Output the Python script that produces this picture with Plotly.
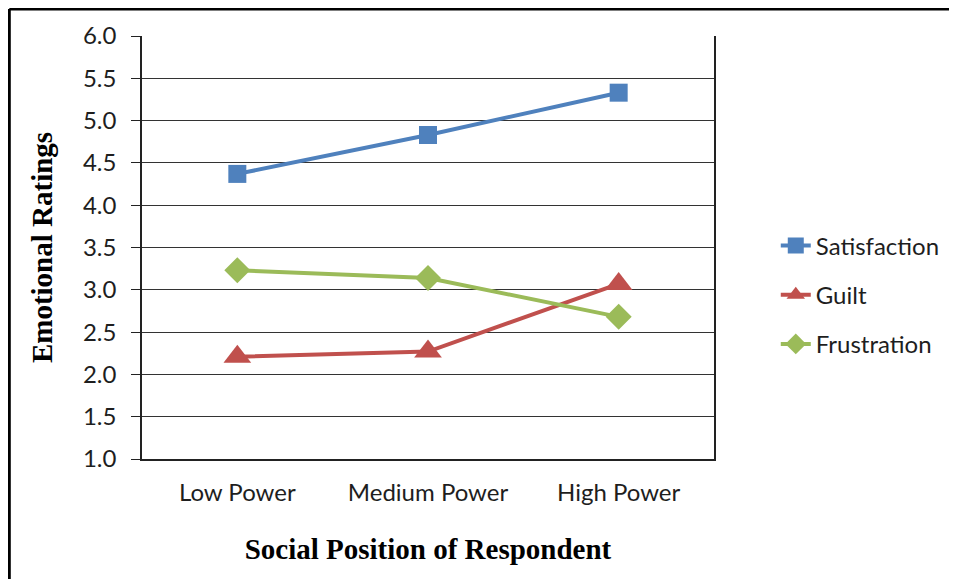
import plotly.graph_objects as go

categories = ["Low Power", "Medium Power", "High Power"]
satisfaction = [4.37, 4.83, 5.33]
guilt = [2.21, 2.27, 3.07]
frustration = [3.23, 3.14, 2.68]
y_ticks = [1.0, 1.5, 2.0, 2.5, 3.0, 3.5, 4.0, 4.5, 5.0, 5.5, 6.0]

series = [
    ("Satisfaction", satisfaction, "#4F81BD", "square", 18),
    ("Guilt", guilt, "#C0504D", "triangle-up", 24),
    ("Frustration", frustration, "#9BBB59", "diamond", 20),
]

fig = go.Figure()
for i, (name, vals, color, sym, msize) in enumerate(series):
    fig.add_trace(go.Scatter(
        x=categories, y=vals, name=name, mode="lines+markers",
        line=dict(color=color, width=4),
        marker=dict(symbol=sym, size=msize, color=color),
        legendgroup=f"g{i}",
    ))

tick_font = dict(family="Lato, 'Open Sans', sans-serif", size=24, color="#1e1e1e")
title_font = dict(family="'Liberation Serif', 'Times New Roman', serif", color="#000")

fig.update_layout(
    width=957, height=579,
    margin=dict(l=134, r=251, t=28, b=128),
    paper_bgcolor="white", plot_bgcolor="white",
    showlegend=True,
    legend=dict(x=1.108, xanchor="left", y=0.557, yanchor="top",
                font=dict(family="Lato, sans-serif", size=24, color="#1e1e1e"),
                tracegroupgap=15, bgcolor="rgba(0,0,0,0)"),
    xaxis=dict(
        type="category", range=[-0.5, 2.5],
        showgrid=False, showline=True, linecolor="#222", linewidth=1.5,
        ticks="", tickfont=tick_font, ticklabelstandoff=11,
        title=dict(text="<b>Social Position of Respondent</b>",
                   font=dict(size=29, **title_font), standoff=34),
    ),
    yaxis=dict(
        range=[1, 6], tickvals=y_ticks, tickformat=".1f",
        showgrid=True, gridcolor="#333", gridwidth=1,
        showline=True, linecolor="#222", linewidth=1.5, mirror=True,
        ticks="outside", ticklen=9, tickcolor="#222", tickwidth=1,
        zeroline=False, tickfont=tick_font, ticklabelstandoff=10,
        title=dict(text="<b>Emotional Ratings</b>",
                   font=dict(size=29, **title_font), standoff=22),
    ),
    shapes=[
        dict(type="line", xref="paper", yref="paper", x0=-0.232, x1=1.6,
             y0=1.064, y1=1.064, line=dict(color="black", width=3)),
        dict(type="line", xref="paper", yref="paper", x0=-0.232, x1=-0.232,
             y0=1.064, y1=-0.4, line=dict(color="black", width=3)),
    ],
)

fig.write_html("out.html")
